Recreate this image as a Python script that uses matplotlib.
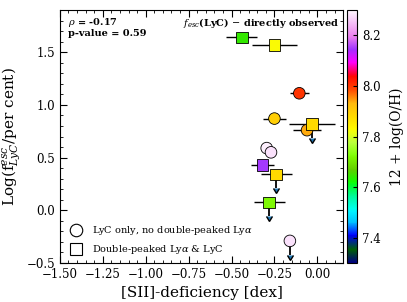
import numpy as np
import matplotlib.pyplot as plt
from matplotlib.lines import Line2D
from matplotlib.ticker import MultipleLocator

plt.rcParams['font.family'] = 'DejaVu Serif'
plt.rcParams['mathtext.fontset'] = 'dejavuserif'

# LyC only, no double-peaked Lya (circles)
circ_x = [-0.105, -0.25, -0.06, -0.295, -0.27, -0.16]
circ_y = [1.11, 0.87, 0.76, 0.59, 0.55, -0.29]
circ_xerr = [0.055, 0.065, 0.08, 0.0, 0.0, 0.0]
circ_oh = [8.00, 7.90, 7.94, 8.29, 8.28, 8.28]
circ_lim = [False, False, False, False, False, True]

# double-peaked Lya & LyC (squares)
sq_x = [-0.44, -0.25, -0.03, -0.32, -0.24, -0.28]
sq_y = [1.64, 1.57, 0.82, 0.43, 0.34, 0.075]
sq_xerr = [0.09, 0.13, 0.135, 0.065, 0.09, 0.09]
sq_yerr = [0.0, 0.03, 0.0, 0.05, 0.0, 0.0]
sq_oh = [7.64, 7.83, 7.88, 8.15, 7.88, 7.72]
sq_lim = [False, False, True, False, True, True]

cmap = plt.get_cmap('gist_ncar')
vmin, vmax = 7.3, 8.3

fig = plt.figure(figsize=(4.07, 3.02), dpi=100)
ax = fig.add_axes([0.147, 0.129, 0.696, 0.838])
cax = fig.add_axes([0.853, 0.129, 0.025, 0.838])

def draw(xs, ys, xerr, yerr, oh, lims, marker):
    ax.errorbar(xs, ys, xerr=xerr, yerr=yerr, fmt='none', ecolor='black', elinewidth=1.0, zorder=1)
    for x, y, l in zip(xs, ys, lims):
        if l:
            # upper limit arrow
            ax.errorbar(x, y, yerr=0.13, uplims=True, fmt='none', ecolor='black',
                        elinewidth=1.3, capsize=2.5, zorder=1)
    return ax.scatter(xs, ys, c=oh, cmap=cmap, vmin=vmin, vmax=vmax, marker=marker,
                      s=70, edgecolors='black', linewidths=0.6, zorder=3)

draw(circ_x, circ_y, circ_xerr, [0]*6, circ_oh, circ_lim, 'o')
sc = draw(sq_x, sq_y, sq_xerr, sq_yerr, sq_oh, sq_lim, 's')

ax.set_xlim(-1.5, 0.15)
ax.set_ylim(-0.5, 1.9)
ax.xaxis.set_major_locator(MultipleLocator(0.25))
ax.xaxis.set_minor_locator(MultipleLocator(0.05))
ax.yaxis.set_major_locator(MultipleLocator(0.5))
ax.yaxis.set_minor_locator(MultipleLocator(0.1))
ax.tick_params(which='both', direction='in', top=True, right=True, labelsize=8.5)
ax.tick_params(which='major', length=5)
ax.tick_params(which='minor', length=2.5)

ax.set_xlabel('[SII]-deficiency [dex]', fontsize=11)
ax.set_ylabel(r'Log(f$^{esc}_{LyC}$/per cent)', fontsize=11, labelpad=3)

ax.text(0.03, 0.975, r'$\rho$ = -0.17', transform=ax.transAxes, fontsize=7,
        fontweight='bold', va='top', ha='left')
ax.text(0.03, 0.925, 'p-value = 0.59', transform=ax.transAxes, fontsize=7,
        fontweight='bold', va='top', ha='left')
ax.text(0.985, 0.975, r'$f_{esc}$(LyC) $-$ directly observed', transform=ax.transAxes,
        fontsize=7, fontweight='bold', va='top', ha='right')

handles = [
    Line2D([], [], marker='o', ls='none', mfc='white', mec='black', ms=9, mew=0.8),
    Line2D([], [], marker='s', ls='none', mfc='white', mec='black', ms=9, mew=0.8),
]
ax.legend(handles, [r'LyC only, no double-peaked Ly$\alpha$', r'Double-peaked Ly$\alpha$ & LyC'],
          loc='lower left', frameon=False, fontsize=7, handletextpad=0.6,
          borderaxespad=0.3, labelspacing=0.6)

cb = fig.colorbar(sc, cax=cax)
cb.set_ticks([7.4, 7.6, 7.8, 8.0, 8.2])
cb.ax.tick_params(labelsize=8.5, direction='in', length=3)
cb.set_label('12 + log(O/H)', fontsize=10, labelpad=6)

fig.savefig('out.png', dpi=100)
